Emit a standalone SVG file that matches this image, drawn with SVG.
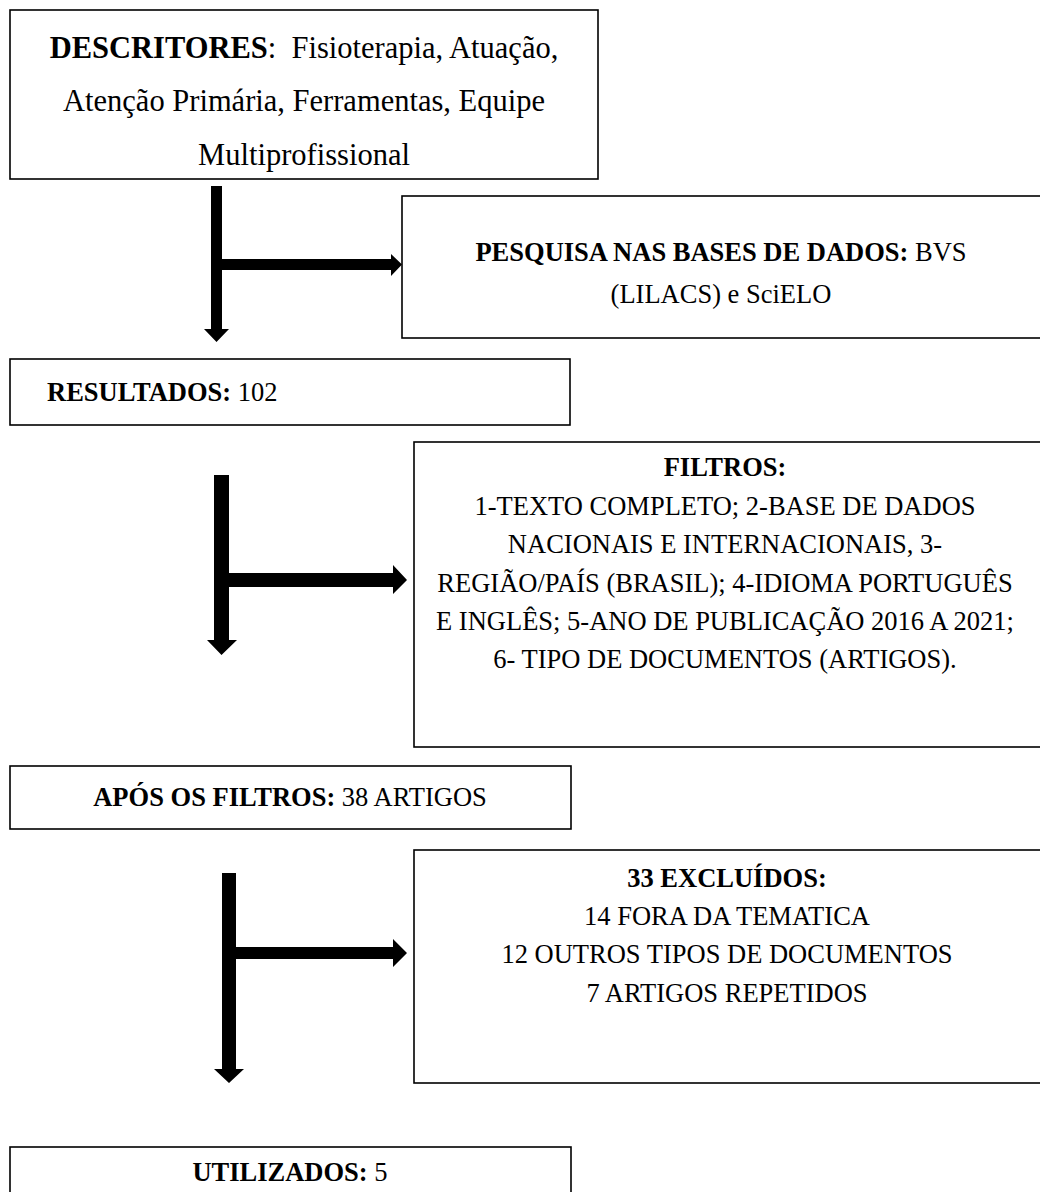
<svg xmlns="http://www.w3.org/2000/svg" width="1040" height="1192" viewBox="0 0 1040 1192">
<style>
.box{fill:#fff;stroke:#000;stroke-width:1.6}
text{font-family:'Liberation Serif','Times New Roman',Times,serif;font-size:26.5px;fill:#000}
.big{font-size:30.5px}
.c{text-anchor:middle}
.b{font-weight:bold}
.arr{fill:#000}
</style>
<rect width="1040" height="1192" fill="#fff"/>
<g id="n1">
<rect class="box" x="10" y="10" width="588" height="169"/>
<text class="big c" x="304" y="58" xml:space="preserve" font-family="Liberation Serif, serif"><tspan class="b">DESCRITORES</tspan>:  Fisioterapia, Atuação,</text>
<text class="big c" x="304" y="111" font-family="Liberation Serif, serif">Atenção Primária, Ferramentas, Equipe</text>
<text class="big c" x="304" y="165" font-family="Liberation Serif, serif">Multiprofissional</text>
</g>
<g id="n2">
<rect class="box" x="402" y="196" width="645" height="142"/>
<text class="c" x="721" y="261" font-family="Liberation Serif, serif"><tspan class="b">PESQUISA NAS BASES DE DADOS:</tspan> BVS</text>
<text class="c" x="721" y="303" font-family="Liberation Serif, serif">(LILACS) e SciELO</text>
</g>
<g id="n3">
<rect class="box" x="10" y="359" width="560" height="66"/>
<text x="47" y="401" font-family="Liberation Serif, serif"><tspan class="b">RESULTADOS:</tspan> 102</text>
</g>
<g id="n4">
<rect class="box" x="414" y="442" width="633" height="305"/>
<text class="c b" x="725" y="476" font-family="Liberation Serif, serif">FILTROS:</text>
<text class="c" x="725" y="515" font-family="Liberation Serif, serif">1-TEXTO COMPLETO; 2-BASE DE DADOS</text>
<text class="c" x="725" y="553" font-family="Liberation Serif, serif">NACIONAIS E INTERNACIONAIS, 3-</text>
<text class="c" x="725" y="592" font-family="Liberation Serif, serif">REGIÃO/PAÍS (BRASIL); 4-IDIOMA PORTUGUÊS</text>
<text class="c" x="725" y="630" font-family="Liberation Serif, serif">E INGLÊS; 5-ANO DE PUBLICAÇÃO 2016 A 2021;</text>
<text class="c" x="725" y="668" font-family="Liberation Serif, serif">6- TIPO DE DOCUMENTOS (ARTIGOS).</text>
</g>
<g id="n5">
<rect class="box" x="10" y="766" width="561" height="63"/>
<text class="c" x="290" y="806" font-family="Liberation Serif, serif"><tspan class="b">APÓS OS FILTROS:</tspan> 38 ARTIGOS</text>
</g>
<g id="n6">
<rect class="box" x="414" y="850" width="633" height="233"/>
<text class="c b" x="727" y="887" font-family="Liberation Serif, serif">33 EXCLUÍDOS:</text>
<text class="c" x="727" y="925" font-family="Liberation Serif, serif">14 FORA DA TEMATICA</text>
<text class="c" x="727" y="963" font-family="Liberation Serif, serif">12 OUTROS TIPOS DE DOCUMENTOS</text>
<text class="c" x="727" y="1002" font-family="Liberation Serif, serif">7 ARTIGOS REPETIDOS</text>
</g>
<g id="n7">
<rect class="box" x="10" y="1147" width="561" height="60"/>
<text class="c" x="290" y="1181" font-family="Liberation Serif, serif"><tspan class="b">UTILIZADOS:</tspan> 5</text>
</g>
<g id="connectors">
<polygon class="arr" points="211,186 222,186 222,329 229,329 216.5,342 204,329 211,329"/>
<polygon class="arr" points="222,259 391,259 391,254 402,264.5 391,276 391,270 222,270"/>
<polygon class="arr" points="214,475 229,475 229,640 237,640 221.5,655 207,640 214,640"/>
<polygon class="arr" points="229,573 393,573 393,565 407,580 393,594 393,587 229,587"/>
<polygon class="arr" points="222,873 236,873 236,1069 244,1069 229,1083 214,1069 222,1069"/>
<polygon class="arr" points="236,947 393,947 393,939 407,953 393,967 393,959 236,959"/>
</g>
</svg>
